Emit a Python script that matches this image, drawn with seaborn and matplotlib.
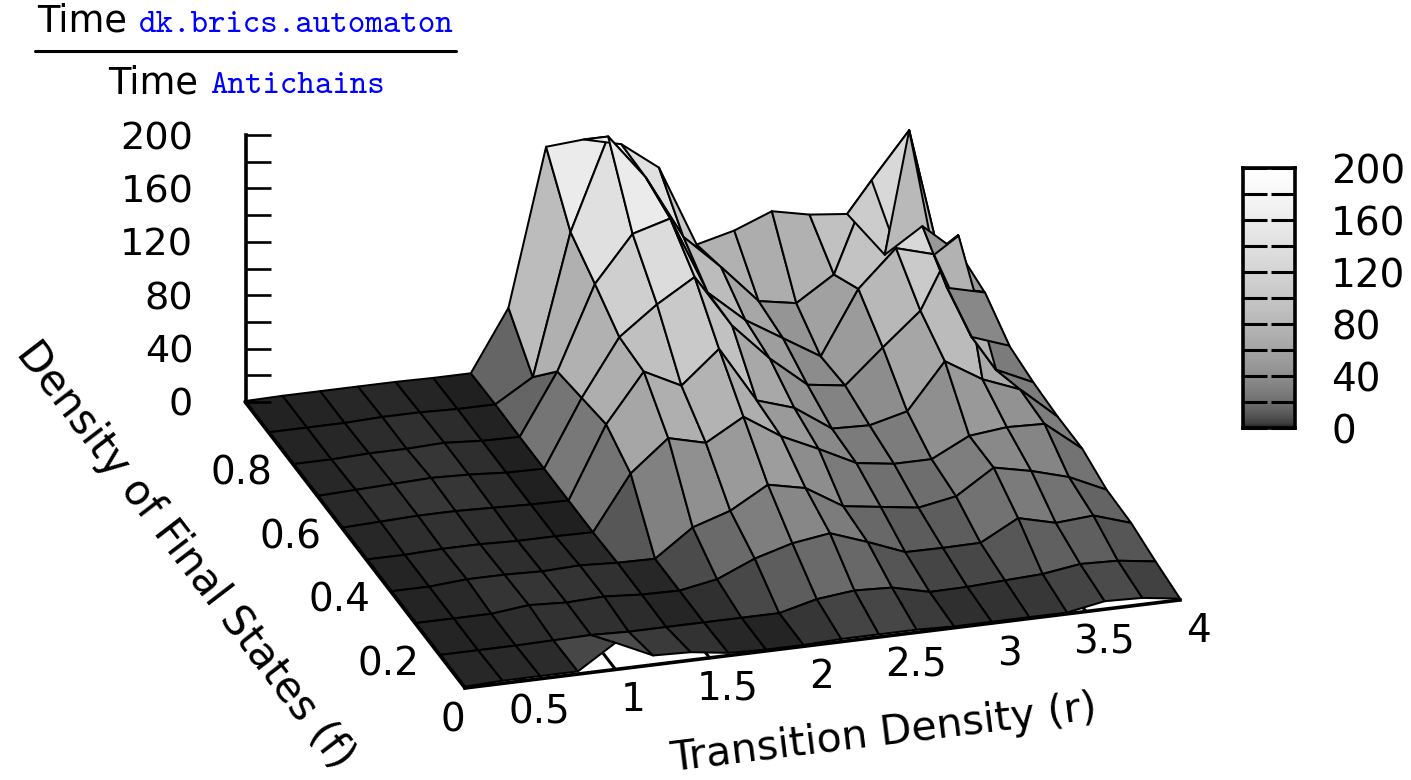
import numpy as np
import matplotlib
matplotlib.use("Agg")
import matplotlib.pyplot as plt
import seaborn as sns
from matplotlib.colors import PowerNorm
from matplotlib.lines import Line2D
from mpl_toolkits.mplot3d import proj3d

W, H = 1411, 780

r_values = [0.2, 0.4, 0.6, 0.8, 1.0, 1.2, 1.4, 1.6, 1.8, 2.0,
            2.2, 2.4, 2.6, 2.8, 3.0, 3.2, 3.4, 3.6, 3.8, 4.0]
f_values = [0.0, 0.1, 0.2, 0.3, 0.4, 0.5, 0.6, 0.7, 0.8, 0.9]

# ratio, one list per final state density
ratio_f00 = [1, 2, 2, 2, 20, 7, 6, 2, 1, 1, 2, 2, 2, 1, 1, 1, 1, 6, 5, 1]
ratio_f01 = [1, 1, 1, 1.5, 2, 1, 1, 1, 1, 1, 8, 11, 9.7, 3, 3.3, 4.7, 6, 10, 9, 5]
ratio_f02 = [1, 1, 1, 4, 2.5, 3.5, 1.5, 1, 6, 18, 26, 30, 20, 9, 8.7, 9, 24, 17, 19, 10]
ratio_f03 = [1, 1, 3, 3, 2, 3, 1.5, 1, 21, 30, 46, 40, 23, 19, 15, 20, 38, 32, 24, 11]
ratio_f04 = [1, 1, 2, 2, 1, 1, 0.5, 41, 64, 57, 73, 55, 42, 28, 24, 24, 38, 41, 40, 18]
ratio_f05 = [1, 2, 3, 3, 2, 1, 0.5, 54, 90, 76, 100, 58, 49, 30, 29, 36, 70, 53, 42, 18]
ratio_f06 = [1, 2, 3, 4, 3, 1, 0.5, 50, 92, 113, 130, 90, 62, 39, 35, 60, 84, 137, 33, 20]
ratio_f07 = [1, 1, 2, 2, 3, 1, 0.5, 46, 108, 142, 150, 91, 67, 50, 33, 80, 107, 99, 34, 24]
ratio_f08 = [1, 1, 1, 2, 2, 1, 1, 18, 123, 191, 157, 109, 83, 54, 49, 67, 134, 168, 47, 40]
ratio_f09 = [0.5, 1, 1, 1, 1, 0.5, 0.5, 46, 163, 165, 158, 137, 76, 83, 94, 88, 85, 51, 69, 45]

r_ticks = [0.5, 1, 1.5, 2, 2.5, 3, 3.5, 4]
r_tick_labels = ["0.5", "1", "1.5", "2", "2.5", "3", "3.5", "4"]
f_ticks = [0, 0.2, 0.4, 0.6, 0.8]
f_tick_labels = ["0", "0.2", "0.4", "0.6", "0.8"]
z_ticks = [0, 40, 80, 120, 160, 200]
z_minor_ticks = [20, 60, 100, 140, 180]
z_tick_labels = ["0", "40", "80", "120", "160", "200"]

sns.set_theme(style="white")
plt.rcParams["font.family"] = ["DejaVu Sans"]
plt.rcParams["text.color"] = "black"
plt.rcParams["ytick.labelcolor"] = "black"

gray = sns.color_palette("gray", as_cmap=True)
norm = PowerNorm(gamma=0.37, vmin=0, vmax=200)

fig = plt.figure(figsize=(W / 100, H / 100), dpi=100)
ax = fig.add_axes([0, 0, 1, 1], projection="3d", computed_zorder=False)
ax.set_proj_type("ortho")
ax.view_init(elev=23.6, azim=-107.1)
ax.set_box_aspect((1, 1, 0.39))
ax.set_xlim(0.2, 4)
ax.set_ylim(0, 0.9)
ax.set_zlim(0, 200)
ax.set_axis_off()

X, Y = np.meshgrid(r_values, f_values)
Z = np.array([ratio_f00, ratio_f01, ratio_f02, ratio_f03, ratio_f04,
              ratio_f05, ratio_f06, ratio_f07, ratio_f08, ratio_f09])
surf_kw = dict(rstride=1, cstride=1, cmap=gray, norm=norm, edgecolor="black",
               linewidth=1.45, antialiased=True, shade=False)
# one strip per r step, painted left to right like the original
for i in range(len(r_values) - 1):
    ax.plot_surface(X[:, i:i + 2], Y[:, i:i + 2], Z[:, i:i + 2], zorder=2 + i * 0.01, **surf_kw)
# two cells by the small right spike go on last
for n, (rows, cols) in enumerate([(slice(6, 8), slice(17, 19)), (slice(7, 9), slice(18, 20))]):
    ax.plot_surface(X[rows, cols], Y[rows, cols], Z[rows, cols], zorder=3 + n * 0.1, **surf_kw)

# base axes, in front of the surface
ax.plot([0.2, 4], [0, 0], [0, 0], color="black", lw=2.6, zorder=4,
        solid_capstyle="projecting")
ax.plot([0.2, 0.2], [0, 0.9], [0, 0], color="black", lw=2.6, zorder=4)
for t in r_ticks:
    ax.plot([t, t], [0, 0.05], [0, 0], color="black", lw=2.2, zorder=1)


def corner_px(r, f, z):
    x2, y2, _ = proj3d.proj_transform(r, f, z, ax.get_proj())
    px, py = ax.transData.transform((x2, y2))
    return px, H - py


# fit the 3d box onto the pixel corners of the picture
side = float(H)
ax.set_position([0, 0, side / W, side / H])
fig.canvas.draw()
a = corner_px(0.2, 0, 0)
b = corner_px(4, 0, 0)
side *= 715 / (b[0] - a[0])
ax.set_position([0, 0, side / W, side / H])
fig.canvas.draw()
a = corner_px(0.2, 0, 0)
ax.set_position([(465 - a[0]) / W, (a[1] - 688) / H, side / W, side / H])
fig.canvas.draw()

# tick labels sit at a fixed pixel offset from their tick on the base
for t, lab in zip(r_ticks, r_tick_labels):
    px, py = corner_px(t, 0, 0)
    fig.text((px + 18) / W, 1 - (py + 31) / H, lab, fontsize=28, ha="center", va="center")
for t, lab in zip(f_ticks, f_tick_labels):
    px, py = corner_px(0.2, t, 0)
    dx, dy = (0, 33) if t == 0 else (3, 40)
    fig.text((px + dx) / W, 1 - (py + dy) / H, lab, fontsize=28, ha="right", va="center")

# z axis
zax = fig.add_axes([246 / W, 1 - 402 / H, 1 / W, 267 / H])
zax.patch.set_visible(False)
zax.set_ylim(0, 200)
zax.set_xticks([])
zax.set_yticks(z_ticks)
zax.set_yticks(z_minor_ticks, minor=True)
zax.set_yticklabels(z_tick_labels, fontsize=27.5)
zax.tick_params(axis="y", which="both", left=True, direction="in", length=18, width=1.9,
                pad=38, color="black")
zax.set_axisbelow(False)
sns.despine(ax=zax, top=True, right=True, bottom=True)
zax.spines["left"].set_linewidth(2.6)
zax.spines["left"].set_color("black")

# colour key
levels = np.arange(200, 0, -1)[:, None]
cax = fig.add_axes([1243 / W, 1 - 428 / H, 52 / W, 260 / H])
sns.heatmap(levels, cmap=gray, norm=norm, cbar=False, ax=cax,
            xticklabels=False, yticklabels=False)
cax.set_yticks([200 - t for t in z_ticks])
cax.set_yticks([200 - t for t in z_minor_ticks], minor=True)
cax.set_yticklabels(z_tick_labels, fontsize=28)
cax.tick_params(axis="y", which="both", left=True, right=True, labelleft=False, labelright=True,
                direction="in", length=17.5, width=2.2, pad=26, color="black")
cax.set_axisbelow(False)
for spine in cax.spines.values():
    spine.set_visible(True)
    spine.set_linewidth(2.6)
    spine.set_color("black")

# ratio label
fig.text(37 / W, 1 - 32 / H, "Time", fontsize=26.5, color="black", va="baseline")
fig.text(139 / W, 1 - 32 / H, "dk.brics.automaton", fontsize=24, color="#0000ff",
         family="cmtt10", va="baseline")
fig.add_artist(Line2D([35 / W, 456 / W], [1 - 51 / H] * 2, color="black", lw=2.2))
fig.text(108 / W, 1 - 93 / H, "Time", fontsize=26.5, color="black", va="baseline")
fig.text(210 / W, 1 - 93 / H, "Antichains", fontsize=24, color="#0000ff",
         family="cmtt10", va="baseline")

fig.text(185 / W, 1 - 555 / H, "Density of Final States (f)", fontsize=30,
         rotation=-52.5, ha="center", va="center", rotation_mode="anchor")
fig.text(884 / W, 1 - 734 / H, "Transition Density (r)", fontsize=29.5,
         rotation=7, ha="center", va="center", rotation_mode="anchor")

fig.savefig("out.png", dpi=100)
